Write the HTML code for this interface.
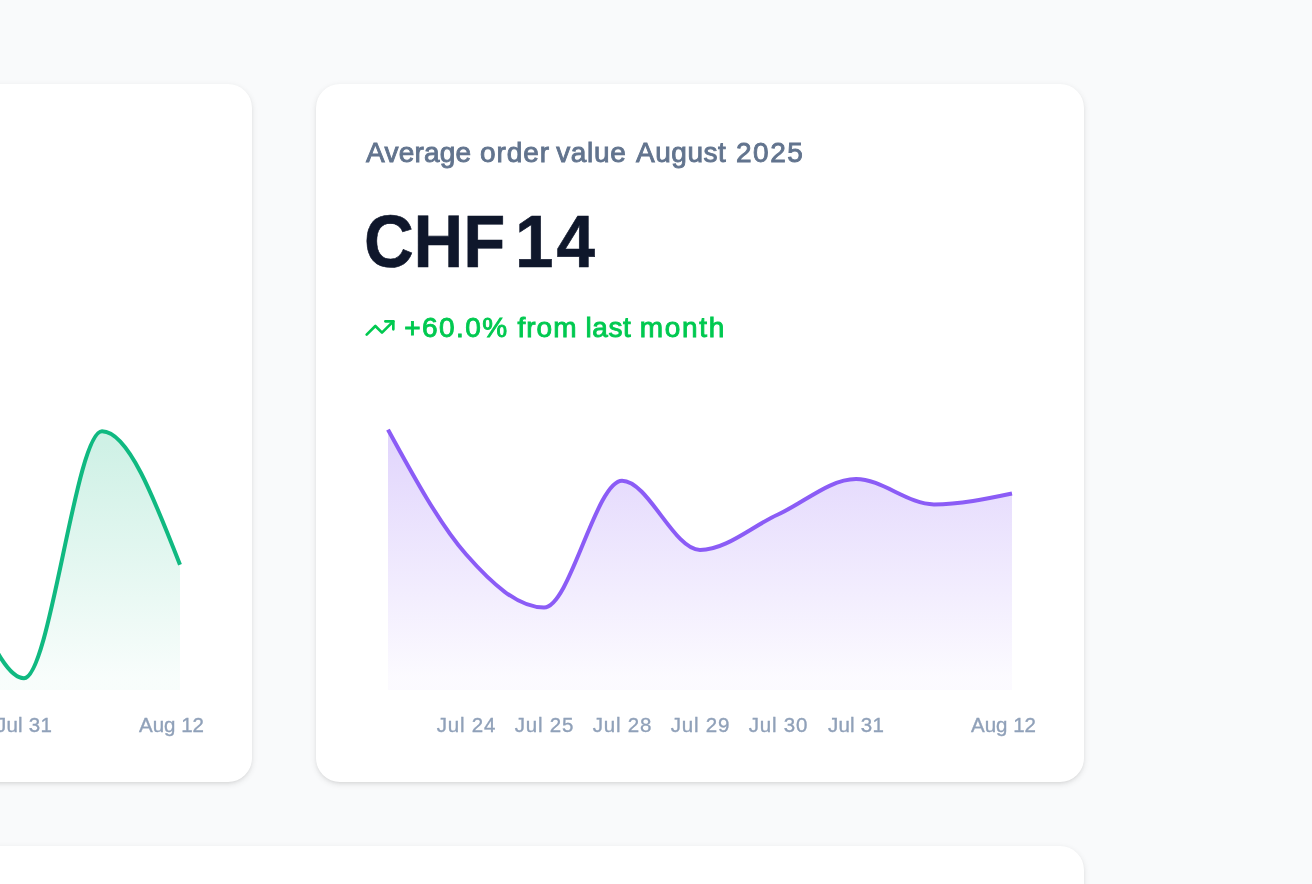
<!DOCTYPE html>
<html lang="en"><head><meta charset="utf-8"><title>Dashboard</title>
<style>
html,body{margin:0;padding:0}
body{width:1312px;height:884px;overflow:hidden;position:relative;background:#f9fafb;font-family:"Liberation Sans",Arial,sans-serif}
.card{position:absolute;background:#fff;border-radius:24px;box-shadow:0 2px 6px 0 rgba(0,0,0,.1),0 2px 4px -2px rgba(0,0,0,.1)}
.t{position:absolute;left:0;white-space:nowrap;line-height:1;width:1312px}
.w{position:absolute;top:0}
.title{top:138.5px;font-size:28px;color:#62748e;-webkit-text-stroke:.9px #62748e}
.big{top:205.1px;font-size:74.5px;font-weight:700;color:#0f172b;-webkit-text-stroke:.6px #0f172b}
.delta{top:314.2px;font-size:28px;color:#00c950;-webkit-text-stroke:.9px #00c950}
svg{position:absolute;left:0;top:0;overflow:visible}
.ax{font-size:20.5px;fill:#90a1b9;stroke:#90a1b9;stroke-width:.35px;font-family:"Liberation Sans",Arial,sans-serif}
.j{letter-spacing:.8px}
</style></head><body>
<div class="card" style="left:-516px;top:84px;width:768px;height:698px"></div>
<div class="card" style="left:316px;top:84px;width:768px;height:698px"></div>
<div class="card" style="left:-516px;top:846px;width:1600px;height:400px"></div>
<div class="t title"><span class="w" style="left:366.00px;letter-spacing:0.23px">Average</span> <span class="w" style="left:480.00px;letter-spacing:0.90px">order</span> <span class="w" style="left:556.20px;letter-spacing:0.67px">value</span> <span class="w" style="left:636.00px;letter-spacing:0.54px">August</span> <span class="w" style="left:736.00px;letter-spacing:1.50px">2025</span></div>
<div class="t big"><span class="w" style="left:363.80px;letter-spacing:-0.22px;transform:scaleX(0.925);transform-origin:0 0">CHF</span> <span class="w" style="left:515.00px;letter-spacing:3.15px;transform:scaleX(0.93);transform-origin:0 0">14</span></div>
<div class="t delta"><span class="w" style="left:404.20px;letter-spacing:1.44px">+60.0%</span> <span class="w" style="left:517.40px;letter-spacing:1.05px">from</span> <span class="w" style="left:585.40px;letter-spacing:0.60px">last</span> <span class="w" style="left:639.80px;letter-spacing:1.69px">month</span></div>
<svg width="1312" height="884" viewBox="0 0 1312 884">
<defs>
<linearGradient id="gp" x1="0" y1="0" x2="0" y2="1"><stop offset="5%" stop-color="#8b5cf6" stop-opacity="0.25"/><stop offset="95%" stop-color="#8b5cf6" stop-opacity="0.03"/></linearGradient>
<linearGradient id="gg" x1="0" y1="0" x2="0" y2="1"><stop offset="5%" stop-color="#10b981" stop-opacity="0.2"/><stop offset="95%" stop-color="#10b981" stop-opacity="0.03"/></linearGradient>
</defs>
<path d="M-132.00,520.00C-106.00,526.82,-80.00,533.63,-54.00,560.00C-28.00,586.37,-2.00,678.20,24.00,678.20C50.00,678.20,76.00,431.30,102.00,431.30C128.00,431.30,154.00,498.05,180.00,564.80L180,690L-132,690Z" fill="url(#gg)"/>
<path d="M-132.00,520.00C-106.00,526.82,-80.00,533.63,-54.00,560.00C-28.00,586.37,-2.00,678.20,24.00,678.20C50.00,678.20,76.00,431.30,102.00,431.30C128.00,431.30,154.00,498.05,180.00,564.80" fill="none" stroke="#10b981" stroke-width="4"/>
<path d="M388.00,429.60C414.00,477.12,440.00,524.65,466.00,554.30C492.00,583.95,518.00,607.50,544.00,607.50C570.00,607.50,596.00,480.70,622.00,480.70C648.00,480.70,674.00,550.00,700.00,550.00C726.00,550.00,752.00,526.33,778.00,514.50C804.00,502.67,830.00,479.00,856.00,479.00C882.00,479.00,908.00,504.40,934.00,504.40C960.00,504.40,986.00,498.95,1012.00,493.50L1012,690L388,690Z" fill="url(#gp)"/>
<path d="M388.00,429.60C414.00,477.12,440.00,524.65,466.00,554.30C492.00,583.95,518.00,607.50,544.00,607.50C570.00,607.50,596.00,480.70,622.00,480.70C648.00,480.70,674.00,550.00,700.00,550.00C726.00,550.00,752.00,526.33,778.00,514.50C804.00,502.67,830.00,479.00,856.00,479.00C882.00,479.00,908.00,504.40,934.00,504.40C960.00,504.40,986.00,498.95,1012.00,493.50" fill="none" stroke="#8b5cf6" stroke-width="4"/>
<g fill="none" stroke="#00c950" stroke-width="2" stroke-linecap="round" stroke-linejoin="round" transform="translate(364,312) scale(1.3333)"><polyline points="22 7 13.5 15.5 8.5 10.5 2 17"/><polyline points="16 7 22 7 22 13"/></g>
<g class="ax j" text-anchor="middle">
<text x="24" y="732" style="letter-spacing:.25px">Jul 31</text>
<text x="466.4" y="732">Jul 24</text><text x="544.4" y="732">Jul 25</text><text x="622.4" y="732">Jul 28</text><text x="700.4" y="732">Jul 29</text><text x="778.4" y="732">Jul 30</text><text x="856" y="732" style="letter-spacing:.25px">Jul 31</text>
</g>
<g class="ax" text-anchor="end"><text x="204" y="732">Aug 12</text><text x="1036" y="732">Aug 12</text></g>
</svg>
</body></html>
